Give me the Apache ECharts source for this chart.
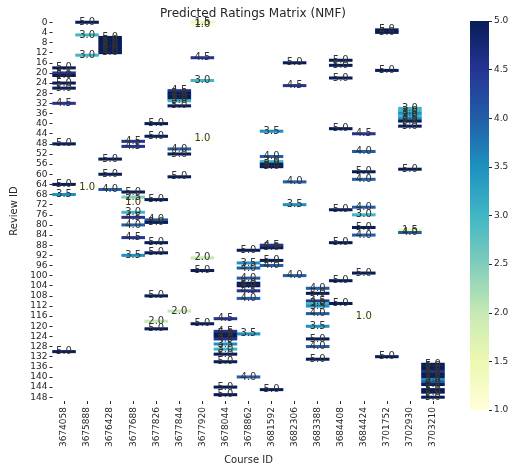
<!DOCTYPE html>
<html>
<head>
<meta charset="utf-8">
<script src="https://cdn.jsdelivr.net/npm/echarts@6/dist/echarts.min.js"></script>
<style>html,body{margin:0;padding:0;background:#fff}#c{width:515px;height:470px}</style>
</head>
<body>
<div id="c"></div>
<script>
const courses = ['3674058','3675888','3676428','3677688','3677826','3677844','3677920','3678044','3678862','3681592','3682306','3683388','3684408','3684424','3701752','3702930','3703210'];
const reviewIds = Array.from({length:150}, (_, i) => String(i));
const colorTicks = [1.0,1.5,2.0,2.5,3.0,3.5,4.0,4.5,5.0];
const ylgnbu = ['#ffffd9','#edf8b1','#c7e9b4','#7fcdbb','#41b6c4','#1d91c0','#225ea8','#253494','#081d58'];

// [review row, predicted rating] per course
const r3674058 = [[18,5.0],[20,4.5],[21,5.0],[24,5.0],[26,5.0],[32,4.5],[48,5.0],[64,5.0],[68,3.5],[130,5.0]];
const r3675888 = [[0,5.0],[5,3.0],[13,3.0],[65,1.0]];
const r3676428 = [[6,5.0],[7,5.0],[8,5.0],[9,5.0],[10,5.0],[11,5.0],[12,5.0],[54,5.0],[60,5.0],[66,4.0]];
const r3677688 = [[47,4.5],[49,4.5],[67,5.0],[69,2.5],[71,1.0],[75,3.0],[77,4.5],[80,4.0],[85,4.5],[92,3.5]];
const r3677826 = [[40,5.0],[45,5.0],[70,5.0],[78,4.0],[79,5.0],[87,5.0],[91,5.0],[108,5.0],[118,2.0],[121,5.0]];
const r3677844 = [[27,4.5],[28,5.0],[29,5.0],[30,5.0],[31,3.0],[33,5.0],[50,4.0],[52,5.0],[61,5.0],[114,2.0]];
const r3677920 = [[0,1.5],[1,1.0],[14,4.5],[23,3.0],[46,1.0],[93,2.0],[98,5.0],[119,5.0]];
const r3678044 = [[117,4.5],[122,4.5],[123,5.0],[124,5.0],[125,4.5],[127,3.5],[129,3.0],[131,5.0],[134,5.0],[144,5.0],[147,5.0]];
const r3678862 = [[90,5.0],[95,3.5],[97,4.0],[101,4.0],[103,5.0],[104,5.0],[106,4.5],[109,4.0],[123,3.5],[140,4.0]];
const r3681592 = [[43,3.5],[53,4.0],[55,3.0],[56,5.0],[57,5.0],[88,4.5],[89,5.0],[94,5.0],[96,4.0],[145,5.0]];
const r3682306 = [[16,5.0],[25,4.5],[63,4.0],[72,3.5],[100,4.0]];
const r3683388 = [[105,4.0],[107,5.0],[110,4.5],[111,3.0],[112,3.5],[115,4.0],[120,3.5],[125,5.0],[128,4.0],[133,5.0]];
const r3684408 = [[15,5.0],[17,5.0],[22,5.0],[42,5.0],[74,5.0],[87,5.0],[102,5.0],[111,5.0]];
const r3684424 = [[44,4.5],[51,4.0],[59,5.0],[62,4.0],[73,4.0],[76,3.0],[81,5.0],[84,4.0],[99,5.0],[116,1.0]];
const r3701752 = [[3,5.0],[4,5.0],[19,5.0],[132,5.0]];
const r3702930 = [[34,3.0],[35,3.0],[36,3.5],[37,3.0],[38,3.5],[39,5.0],[41,5.0],[58,5.0],[82,1.5],[83,4.0]];
const r3703210 = [[135,5.0],[136,5.0],[137,5.0],[138,4.5],[139,5.0],[140,5.0],[141,3.5],[142,4.0],[143,5.0],[145,5.0],[146,5.0],[148,5.0]];

const perCourse = [r3674058,r3675888,r3676428,r3677688,r3677826,r3677844,r3677920,r3678044,r3678862,r3681592,r3682306,r3683388,r3684408,r3684424,r3701752,r3702930,r3703210];
const cells = [];
perCourse.forEach((arr, ci) => arr.forEach(([r, v]) => cells.push([ci, r, v])));

const FONT = 'DejaVu Sans';
const TXT = '#262626';
const chart = echarts.init(document.getElementById('c'), null, {renderer: 'canvas'});
chart.setOption({
  backgroundColor: '#fff',
  animation: false,
  textStyle: {fontFamily: FONT},
  title: {
    text: 'Predicted Ratings Matrix (NMF)',
    left: 248, top: 3, textAlign: 'center',
    textStyle: {fontSize: 12, fontWeight: 'normal', color: TXT, fontFamily: FONT}
  },
  grid: [
    {left: 52.5, top: 21, width: 392, height: 392},
    {left: 470, top: 21, width: 19, height: 389}
  ],
  xAxis: [
    {type: 'category', gridIndex: 0, data: courses, position: 'bottom',
     axisLine: {show: false}, splitLine: {show: false},
     axisTick: {show: true, alignWithLabel: true, length: 3, lineStyle: {color: TXT}},
     axisLabel: {rotate: 90, fontSize: 9, color: TXT, margin: 6, fontFamily: FONT},
     name: 'Course ID', nameLocation: 'middle', nameGap: 48,
     nameTextStyle: {fontSize: 10, color: TXT, fontFamily: FONT}},
    {type: 'category', gridIndex: 1, data: ['cb'], show: false}
  ],
  yAxis: [
    {type: 'category', gridIndex: 0, data: reviewIds, inverse: true,
     axisLine: {show: false}, splitLine: {show: false},
     axisTick: {show: true, alignWithLabel: true, interval: 3, length: 3, lineStyle: {color: TXT}},
     axisLabel: {interval: 3, fontSize: 9, color: TXT, margin: 5, fontFamily: FONT},
     name: 'Review ID', nameLocation: 'middle', nameGap: 32,
     nameTextStyle: {fontSize: 10, color: TXT, fontFamily: FONT}},
    {type: 'value', gridIndex: 1, min: 1, max: 5, interval: 0.5, position: 'right',
     axisLine: {show: false}, splitLine: {show: false},
     axisTick: {show: true, length: 3, lineStyle: {color: TXT}},
     axisLabel: {fontSize: 9, color: TXT, margin: 5, fontFamily: FONT,
                 formatter: v => colorTicks.includes(v) ? v.toFixed(1) : ''}}
  ],
  visualMap: {
    type: 'continuous', show: false, min: 1, max: 5, seriesIndex: 0, dimension: 2,
    inRange: {color: ylgnbu}
  },
  series: [
    {type: 'heatmap', xAxisIndex: 0, yAxisIndex: 0, data: cells,
     label: {show: true, fontSize: 10, color: '#333', fontFamily: FONT,
             formatter: p => p.value[2].toFixed(1)},
     emphasis: {disabled: true}},
    {type: 'bar', xAxisIndex: 1, yAxisIndex: 1, stack: 'cb', data: [colorTicks[0]],
     barWidth: '100%', itemStyle: {color: 'rgba(0,0,0,0)'}, silent: true},
    {type: 'bar', xAxisIndex: 1, yAxisIndex: 1, stack: 'cb',
     data: [colorTicks[colorTicks.length - 1] - colorTicks[0]], barWidth: '100%', silent: true,
     itemStyle: {color: new echarts.graphic.LinearGradient(0, 0, 0, 1,
       ylgnbu.slice().reverse().map((c, i, a) => ({offset: i / (a.length - 1), color: c})))}}
  ]
});
</script>
</body>
</html>
